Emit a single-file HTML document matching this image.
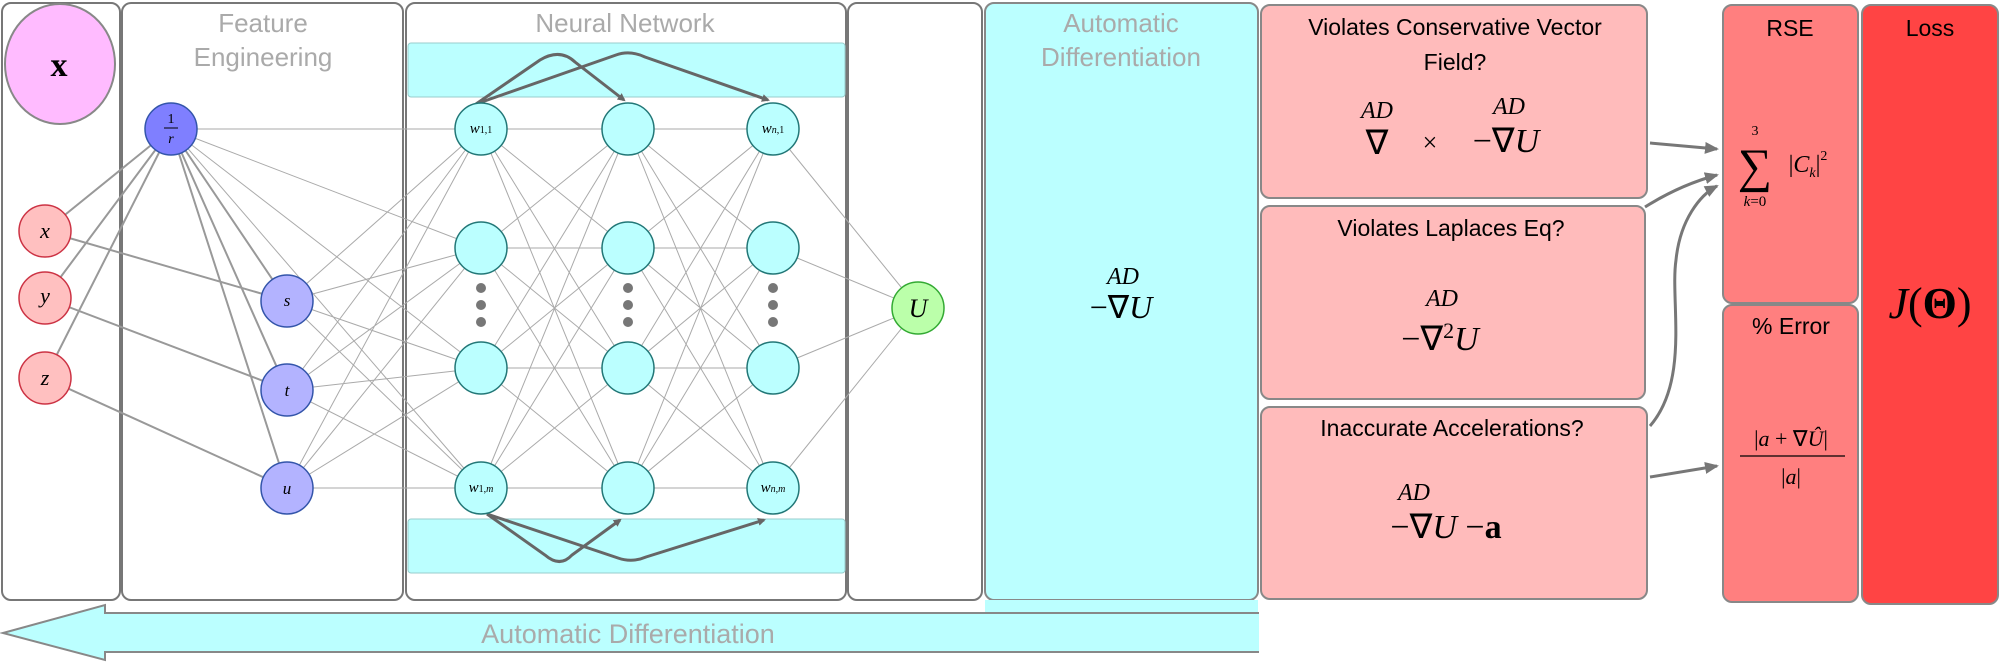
<!DOCTYPE html>
<html><head><meta charset="utf-8"><style>
body{margin:0;background:#fff}
svg{display:block}
.s{font-family:"Liberation Sans",sans-serif}
.m{font-family:"Liberation Serif",serif;font-style:italic}
.r{font-family:"Liberation Serif",serif}
</style></head><body>
<svg width="2000" height="662" viewBox="0 0 2000 662" xmlns="http://www.w3.org/2000/svg">
<defs>
<marker id="ah" markerWidth="8" markerHeight="8" refX="6" refY="4" orient="auto" markerUnits="userSpaceOnUse"><path d="M0,0 L8,4 L0,8 z" fill="#666"/></marker>
<marker id="ah2" markerWidth="14" markerHeight="12" refX="12" refY="6" orient="auto" markerUnits="userSpaceOnUse"><path d="M0,0 L14,6 L0,12 z" fill="#777"/></marker>
</defs>
<!-- panels -->
<g fill="#fff" stroke="#777" stroke-width="2">
<rect x="2" y="3" width="118" height="597" rx="9"/>
<rect x="122" y="3" width="281" height="597" rx="9"/>
<rect x="406" y="3" width="440" height="597" rx="9"/>
<rect x="848" y="3" width="134" height="597" rx="9"/>
</g>
<rect x="985" y="3" width="273" height="597" rx="9" fill="#bbffff" stroke="#888" stroke-width="2"/>
<!-- bottom arrow -->
<path d="M1259,613 L105,613 L105,605 L3,633 L105,660 L105,652 L1259,652" fill="#bbffff" stroke="#888" stroke-width="2"/>
<rect x="985" y="600" width="273" height="12" fill="#bbffff"/>
<text x="628" y="643" class="s" font-size="27" fill="#aaa" text-anchor="middle">Automatic Differentiation</text>
<!-- titles -->
<g class="s" font-size="26" fill="#aaa" text-anchor="middle">
<text x="263" y="32">Feature</text><text x="263" y="66">Engineering</text>
<text x="625" y="32">Neural Network</text>
<text x="1121" y="32">Automatic</text><text x="1121" y="66">Differentiation</text>
</g>
<!-- NN cyan rects -->
<rect x="408" y="43" width="437" height="54" rx="3" fill="#bbffff" stroke="#9cc" stroke-width="1"/>
<rect x="408" y="519" width="437" height="54" rx="3" fill="#bbffff" stroke="#9cc" stroke-width="1"/>
<!-- connections -->
<g stroke="#aaa" stroke-width="1" fill="none">
<path d="M171,129L481,129M171,129L481,248M171,129L481,368M171,129L481,488
M287,301L481,129M287,301L481,248M287,301L481,368M287,301L481,488
M287,390L481,129M287,390L481,248M287,390L481,368M287,390L481,488
M287,488L481,129M287,488L481,248M287,488L481,368M287,488L481,488
M481,129L628,129M481,129L628,248M481,129L628,368M481,129L628,488
M481,248L628,129M481,248L628,248M481,248L628,368M481,248L628,488
M481,368L628,129M481,368L628,248M481,368L628,368M481,368L628,488
M481,488L628,129M481,488L628,248M481,488L628,368M481,488L628,488
M628,129L773,129M628,129L773,248M628,129L773,368M628,129L773,488
M628,248L773,129M628,248L773,248M628,248L773,368M628,248L773,488
M628,368L773,129M628,368L773,248M628,368L773,368M628,368L773,488
M628,488L773,129M628,488L773,248M628,488L773,368M628,488L773,488
M773,129L918,308M773,248L918,308M773,368L918,308M773,488L918,308
M171,129L287,301M171,129L287,390M171,129L287,488"/>
</g>
<g stroke="#999" stroke-width="2" fill="none">
<path d="M45,231L171,129M45,298L171,129M45,378L171,129M45,231L287,301M45,298L287,390M45,378L287,488M171,129L287,301M171,129L287,390M171,129L287,488"/>
</g>
<!-- curved arrows -->
<g stroke="#666" stroke-width="3" fill="none">
<path d="M476,104 L540,60 Q560,48 575,62 L624,100" marker-end="url(#ah)"/>
<path d="M476,104 L616,55 Q630,50 645,57 L768,100" marker-end="url(#ah)"/>
<path d="M487,514 L545,555 Q560,568 572,555 L620,520" marker-end="url(#ah)"/>
<path d="M487,514 L618,558 Q632,563 646,557 L764,520" marker-end="url(#ah)"/>
</g>
<!-- nodes -->
<ellipse cx="60" cy="64" rx="55" ry="60" fill="#ffbbff" stroke="#888" stroke-width="2"/>
<text x="59" y="76" class="r" font-weight="bold" font-size="34" text-anchor="middle">x</text>
<g stroke-width="1.5">
<circle cx="45" cy="231" r="26" fill="#ffc0c0" stroke="#cc3344"/>
<circle cx="45" cy="298" r="26" fill="#ffc0c0" stroke="#cc3344"/>
<circle cx="45" cy="378" r="26" fill="#ffc0c0" stroke="#cc3344"/>
<circle cx="171" cy="129" r="26" fill="#7f7fff" stroke="#3355aa"/>
<circle cx="287" cy="301" r="26" fill="#b3b3ff" stroke="#3355aa"/>
<circle cx="287" cy="390" r="26" fill="#b3b3ff" stroke="#3355aa"/>
<circle cx="287" cy="488" r="26" fill="#b3b3ff" stroke="#3355aa"/>
<g fill="#bbffff" stroke="#227777">
<circle cx="481" cy="129" r="26"/><circle cx="628" cy="129" r="26"/><circle cx="773" cy="129" r="26"/>
<circle cx="481" cy="248" r="26"/><circle cx="628" cy="248" r="26"/><circle cx="773" cy="248" r="26"/>
<circle cx="481" cy="368" r="26"/><circle cx="628" cy="368" r="26"/><circle cx="773" cy="368" r="26"/>
<circle cx="481" cy="488" r="26"/><circle cx="628" cy="488" r="26"/><circle cx="773" cy="488" r="26"/>
</g>
<circle cx="918" cy="308" r="26" fill="#bbffaa" stroke="#33aa33"/>
</g>
<g fill="#777">
<circle cx="481" cy="288" r="5"/><circle cx="481" cy="305" r="5"/><circle cx="481" cy="322" r="5"/>
<circle cx="628" cy="288" r="5"/><circle cx="628" cy="305" r="5"/><circle cx="628" cy="322" r="5"/>
<circle cx="773" cy="288" r="5"/><circle cx="773" cy="305" r="5"/><circle cx="773" cy="322" r="5"/>
</g>
<g class="m" text-anchor="middle">
<text x="45" y="238" font-size="22">x</text>
<text x="45" y="303" font-size="22">y</text>
<text x="45" y="385" font-size="22">z</text>
<text x="171" y="123" font-size="14" class="r" style="font-style:normal">1</text>
<line x1="164" y1="128" x2="178" y2="128" stroke="#000" stroke-width="1"/>
<text x="171" y="143" font-size="14">r</text>
<text x="287" y="306" font-size="17">s</text>
<text x="287" y="396" font-size="17">t</text>
<text x="287" y="494" font-size="17">u</text>
<text x="481" y="133" font-size="15">w<tspan font-size="10" font-style="normal">1,1</tspan></text>
<text x="773" y="133" font-size="15">w<tspan font-size="10">n</tspan><tspan font-size="10" font-style="normal">,1</tspan></text>
<text x="481" y="492" font-size="15">w<tspan font-size="10" font-style="normal">1,</tspan><tspan font-size="10">m</tspan></text>
<text x="773" y="492" font-size="15">w<tspan font-size="10">n,m</tspan></text>
<text x="918" y="317" font-size="26">U</text>
</g>
<!-- AD panel math -->
<g class="m" text-anchor="middle">
<text x="1123" y="284" font-size="24">AD</text>
<text x="1121" y="318" font-size="32"><tspan font-style="normal">−∇</tspan>U</text>
</g>
<!-- pink boxes -->
<g fill="#ffbbbb" stroke="#888" stroke-width="2">
<rect x="1261" y="5" width="386" height="193" rx="9"/>
<rect x="1261" y="206" width="384" height="193" rx="9"/>
<rect x="1261" y="407" width="386" height="192" rx="9"/>
</g>
<g class="s" font-size="23" text-anchor="middle" fill="#000">
<text x="1455" y="35">Violates Conservative Vector</text>
<text x="1455" y="70">Field?</text>
<text x="1451" y="236">Violates Laplaces Eq?</text>
<text x="1452" y="436">Inaccurate Accelerations?</text>
</g>
<g class="m" text-anchor="middle">
<text x="1377" y="118" font-size="24">AD</text>
<text x="1377" y="154" font-size="34" font-style="normal">∇</text>
<text x="1430" y="151" font-size="26" font-style="normal">×</text>
<text x="1509" y="114" font-size="24">AD</text>
<text x="1506" y="152" font-size="34"><tspan font-style="normal">−∇</tspan>U</text>
<text x="1442" y="306" font-size="24">AD</text>
<text x="1440" y="350" font-size="34"><tspan font-style="normal">−∇</tspan><tspan font-style="normal" font-size="22" dy="-12">2</tspan><tspan dy="12">U</tspan></text>
<text x="1414" y="500" font-size="24">AD</text>
<text x="1446" y="538" font-size="34"><tspan font-style="normal">−∇</tspan>U <tspan font-style="normal">−</tspan><tspan font-style="normal" font-weight="bold">a</tspan></text>
</g>
<!-- RSE / error / loss -->
<rect x="1723" y="5" width="135" height="298" rx="9" fill="#ff7f7f" stroke="#888" stroke-width="2"/>
<rect x="1723" y="305" width="135" height="297" rx="9" fill="#ff7f7f" stroke="#888" stroke-width="2"/>
<rect x="1862" y="5" width="136" height="599" rx="9" fill="#ff4444" stroke="#888" stroke-width="2"/>
<g class="s" font-size="23" text-anchor="middle">
<text x="1790" y="36">RSE</text>
<text x="1791" y="334">% Error</text>
<text x="1930" y="36">Loss</text>
</g>
<g class="m" text-anchor="middle">
<text x="1755" y="135" font-size="14" font-style="normal">3</text>
<text x="1755" y="182" font-size="48" font-style="normal">∑</text>
<text x="1755" y="206" font-size="15">k<tspan font-style="normal">=0</tspan></text>
<text x="1808" y="172" font-size="24"><tspan font-style="normal">|</tspan>C<tspan font-size="14" dy="5">k</tspan><tspan font-style="normal" dy="-5">|</tspan><tspan font-style="normal" font-size="14" dy="-12">2</tspan></text>
<text x="1791" y="446" font-size="22"><tspan font-style="normal">|</tspan>a <tspan font-style="normal">+ ∇</tspan>Û<tspan font-style="normal">|</tspan></text>
<line x1="1740" y1="456" x2="1845" y2="456" stroke="#000" stroke-width="1.2"/>
<text x="1791" y="484" font-size="22"><tspan font-style="normal">|</tspan>a<tspan font-style="normal">|</tspan></text>
<text x="1930" y="318" font-size="44">J<tspan font-style="normal">(</tspan><tspan font-style="normal" font-weight="bold">Θ</tspan><tspan font-style="normal">)</tspan></text>
</g>
<!-- right arrows -->
<g stroke="#777" stroke-width="3" fill="none">
<path d="M1650,143 L1717,149" marker-end="url(#ah2)"/>
<path d="M1645,207 Q1680,185 1717,175" marker-end="url(#ah2)"/>
<path d="M1650,426 C1690,380 1670,300 1676,260 C1680,220 1700,195 1717,186" marker-end="url(#ah2)"/>
<path d="M1650,477 L1717,466" marker-end="url(#ah2)"/>
</g>
</svg>
</body></html>
